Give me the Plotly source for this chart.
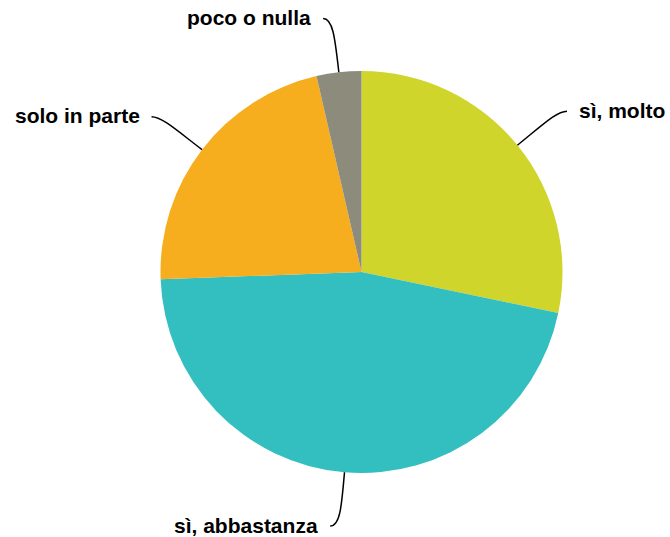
import math
import plotly.graph_objects as go

labels = ["sì, molto", "sì, abbastanza", "solo in parte", "poco o nulla"]
values = [28.3, 46.2, 22.0, 3.6]
colors = ["#CFD52A", "#33BEC0", "#F6AE1F", "#8C8B7C"]

W, H = 670, 537
ML, MR, MT, MB = 160, 107, 71, 64
PW, PH = W - ML - MR, H - MT - MB
cx, cy = ML + PW / 2, MT + PH / 2
R = min(PW, PH) / 2


def to_paper(x, y):
    return (x - ML) / PW, (H - MB - y) / PH


fig = go.Figure(go.Pie(
    labels=labels, values=values, sort=False, direction="clockwise", rotation=0,
    marker=dict(colors=colors, line=dict(width=0)), textinfo="none",
    hoverinfo="label+percent", showlegend=False,
))

shapes, annotations = [], []
total = sum(values)
acc = 0.0
for lab, v in zip(labels, values):
    mid = (acc + v / 2) / total * 2 * math.pi
    acc += v
    dx, dy = math.sin(mid), -math.cos(mid)
    sign = 1 if dx >= 0 else -1
    p0 = (cx + R * dx, cy + R * dy)
    p1 = (cx + (R + 34) * dx, cy + (R + 34) * dy)
    p3 = (cx + (R + 51) * dx + sign * 10, cy + (R + 54) * dy)
    p2 = (p3[0] - sign * 10, p3[1])
    pts = [to_paper(*p) for p in (p0, p1, p2, p3)]
    path = "M {:.4f},{:.4f} C {:.4f},{:.4f} {:.4f},{:.4f} {:.4f},{:.4f}".format(
        *[c for p in pts for c in p])
    shapes.append(dict(type="path", xref="paper", yref="paper", path=path,
                       line=dict(color="#000000", width=1.5)))
    tx, ty = to_paper(p3[0] + sign * 10, p3[1] - 1)
    annotations.append(dict(x=tx, y=ty, xref="paper", yref="paper", text="<b>%s</b>" % lab,
                            showarrow=False, xanchor="left" if sign > 0 else "right",
                            yanchor="middle",
                            font=dict(family="Liberation Sans, Arial, sans-serif",
                                      size=21, color="#000000")))

fig.update_layout(
    width=W, height=H, margin=dict(l=ML, r=MR, t=MT, b=MB, autoexpand=False),
    paper_bgcolor="white", plot_bgcolor="white",
    shapes=shapes, annotations=annotations,
)
fig.write_html("out.html", config={"displayModeBar": False},
               post_script="document.body.style.margin='0';")
